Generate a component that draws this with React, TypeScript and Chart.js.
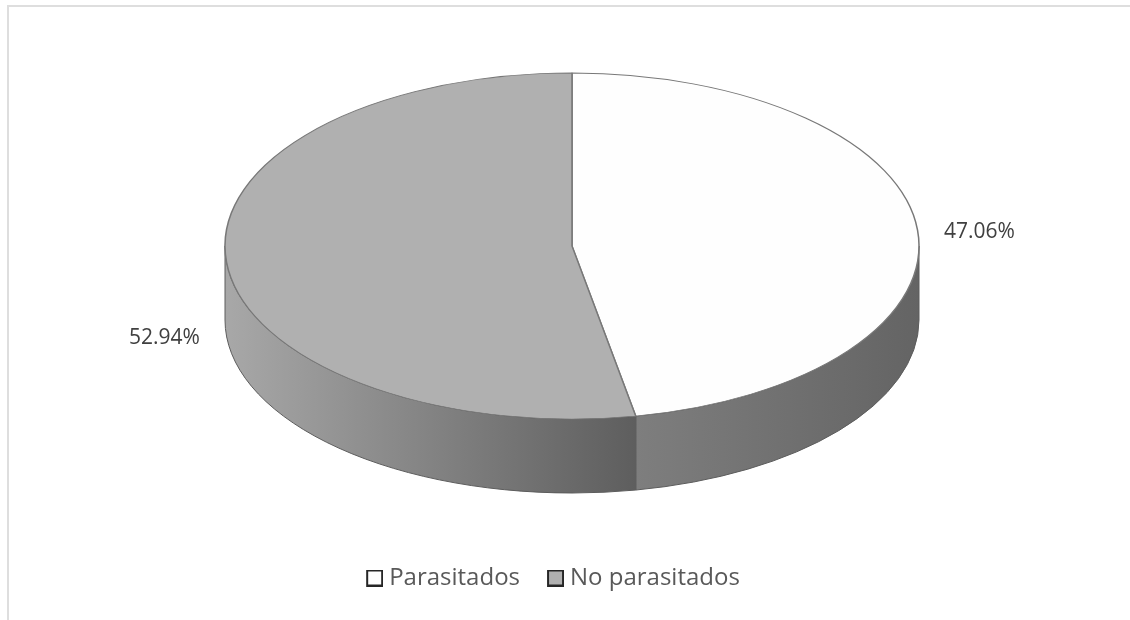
import React, { useEffect, useRef } from "react";
import { Chart, registerables } from "chart.js";

Chart.register(...registerables);

const categories = ["Parasitados", "No parasitados"];
const percentages = [47.06, 52.94];
const sliceColors = ["#fefefe", "#b0b0b0"];
const wallGradients = [
  ["#7e7e7e", "#646464"],
  ["#a8a8a8", "#5e5e5e"],
];

const CX = 572;
const CY = 246;
const RX = 347;
const RY = 173;
const DEPTH = 74;
const FONT = '"Open Sans", sans-serif';

function legendSwatch(color: string) {
  // The swatch sits at the right of a wider image so the legend's text gap matches.
  const c = document.createElement("canvas");
  c.width = 23;
  c.height = 17;
  const g = c.getContext("2d")!;
  g.fillStyle = color;
  g.strokeStyle = "#262626";
  g.lineWidth = 2;
  g.fillRect(7, 1, 15, 15);
  g.strokeRect(7, 1, 15, 15);
  return c;
}

const pie3d = {
  id: "pie3d",
  beforeDatasetsDraw(chart: any) {
    const ctx = chart.ctx;
    const arcs = chart.getDatasetMeta(0).data;
    ctx.save();
    arcs.forEach((arc: any, i: number) => {
      const a0 = Math.max(arc.startAngle, 0);
      const a1 = Math.min(arc.endAngle, Math.PI);
      if (a1 <= a0) return;
      const x0 = CX + RX * Math.cos(a1);
      const x1 = CX + RX * Math.cos(a0);
      const g = ctx.createLinearGradient(x0, 0, x1, 0);
      const [c0, c1] = wallGradients[i];
      g.addColorStop(0, c0);
      g.addColorStop(1, c1);
      ctx.beginPath();
      ctx.ellipse(CX, CY, RX, RY, 0, a0, a1);
      ctx.ellipse(CX, CY + DEPTH, RX, RY, 0, a1, a0, true);
      ctx.closePath();
      ctx.fillStyle = g;
      ctx.fill();
      ctx.strokeStyle = "#5c5c5c";
      ctx.lineWidth = 1;
      ctx.stroke();
    });
    ctx.restore();
    const first = arcs[0];
    ctx.save();
    ctx.translate(CX, CY);
    ctx.scale(RX / first.outerRadius, RY / first.outerRadius);
    ctx.translate(-first.x, -first.y);
  },
  afterDatasetsDraw(chart: any) {
    const ctx = chart.ctx;
    ctx.restore();
    const arcs = chart.getDatasetMeta(0).data;
    ctx.save();
    ctx.font = `21px ${FONT}`;
    ctx.fillStyle = "#404040";
    ctx.textAlign = "center";
    ctx.textBaseline = "middle";
    arcs.forEach((arc: any, i: number) => {
      const mid = (arc.startAngle + arc.endAngle) / 2;
      const c = Math.cos(mid);
      const s = Math.sin(mid);
      const x = CX + RX * c + Math.sign(c) * 62;
      const y = CY + RY * s + (s > 0 ? DEPTH : 0) + 2;
      ctx.fillText(`${percentages[i].toFixed(2)}%`, x, y);
    });
    ctx.restore();
  },
  afterDraw(chart: any) {
    const ctx = chart.ctx;
    ctx.save();
    ctx.strokeStyle = "#dedede";
    ctx.lineWidth = 2;
    ctx.beginPath();
    ctx.moveTo(8, chart.height);
    ctx.lineTo(8, 6);
    ctx.lineTo(chart.width, 6);
    ctx.stroke();
    ctx.restore();
  },
};

export default function App() {
  const ref = useRef<HTMLCanvasElement>(null);
  useEffect(() => {
    document.body.style.margin = "0";
    const chart = new Chart(ref.current!, {
      type: "pie",
      data: {
        labels: categories,
        datasets: [
          {
            data: percentages,
            backgroundColor: sliceColors,
            borderColor: "#787878",
            borderWidth: 1.2,
          },
        ],
      },
      options: {
        responsive: false,
        animation: false,
        layout: { padding: { right: 24, bottom: 20, top: 0, left: 0 } },
        plugins: {
          tooltip: { enabled: false },
          legend: {
            position: "bottom",
            labels: {
              usePointStyle: true,
              pointStyleWidth: 11,
              boxHeight: 14,
              padding: 27,
              color: "#595959",
              font: { family: FONT, size: 24 },
              generateLabels: () =>
                categories.map((t, i) => ({
                  text: t,
                  fillStyle: sliceColors[i],
                  strokeStyle: "#262626",
                  lineWidth: 2,
                  fontColor: "#595959",
                  pointStyle: legendSwatch(sliceColors[i]),
                  index: i,
                  hidden: false,
                })),
            },
          },
        },
      },
      plugins: [pie3d],
    } as any);
    return () => chart.destroy();
  }, []);
  return (
    <canvas
      ref={ref}
      width={1130}
      height={620}
      style={{ display: "block", width: 1130, height: 620, background: "#fff" }}
    />
  );
}
